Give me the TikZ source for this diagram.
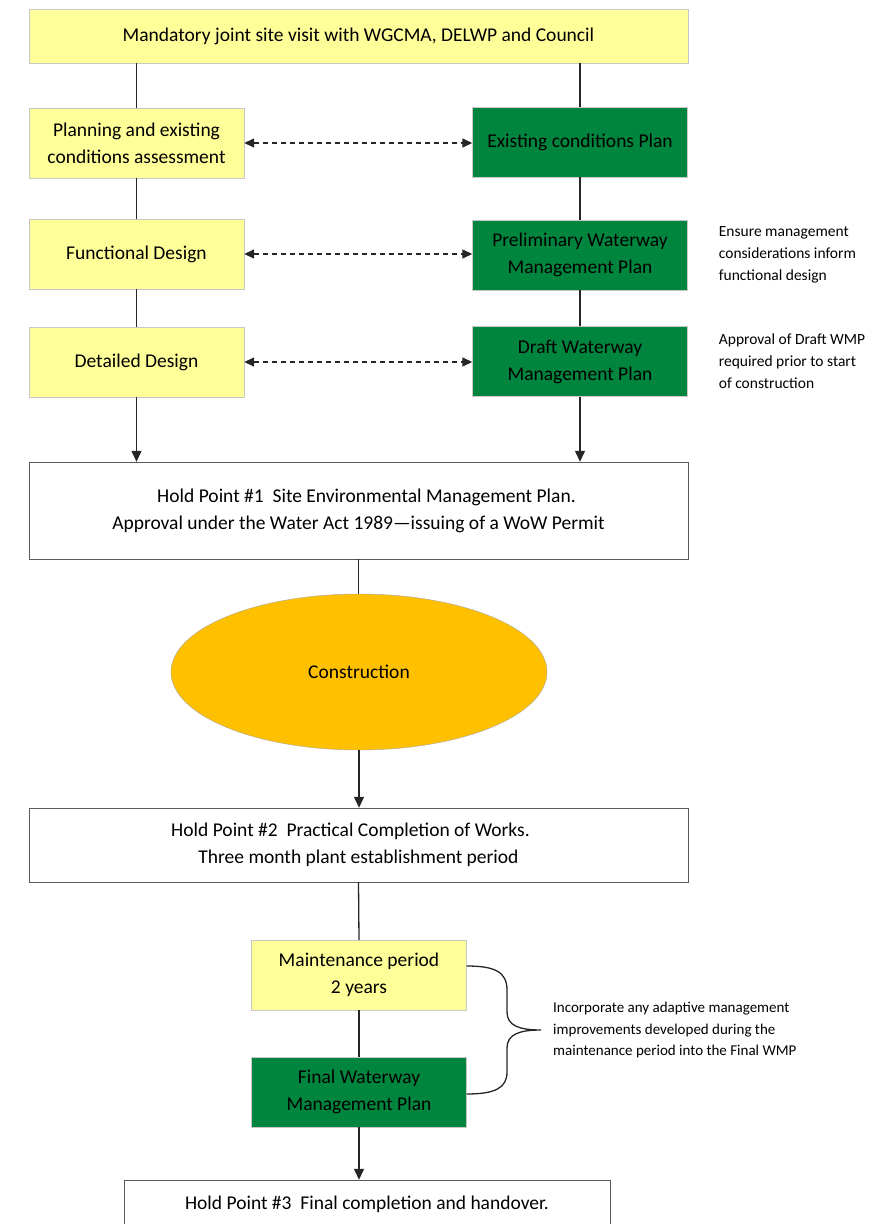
\documentclass[tikz,border=0pt]{standalone}
\usepackage{fontspec}
\setmainfont{Carlito}
\usetikzlibrary{shapes.geometric,arrows.meta,positioning}
\definecolor{paleyellow}{RGB}{255,255,153}
\definecolor{plangreen}{RGB}{0,133,62}
\definecolor{buildorange}{RGB}{255,192,0}
\definecolor{edgegray}{RGB}{200,200,200}
\definecolor{framegray}{RGB}{90,90,90}
\tikzset
{
    stepbox/.style   = {rectangle, draw=edgegray, fill=paleyellow, align=center, minimum width=215pt, minimum height=70pt, inner sep=0pt, font=\fontsize{19.5}{27}\selectfont},
    planbox/.style   = {stepbox, fill=plangreen},
    holdbox/.style   = {rectangle, draw=framegray, fill=white, align=center, minimum width=659pt, inner sep=0pt, font=\fontsize{19.5}{27}\selectfont},
    sidenote/.style  = {align=left, inner sep=0pt, font=\fontsize{15.5}{22}\selectfont},
    link/.style      = {draw=black!85, line width=1.3pt},
    flow/.style      = {link, -{Triangle[width=10pt,length=11pt]}},
    crosslink/.style = {link, dash pattern=on 5pt off 4pt, {Triangle[width=9pt,length=10pt]}-{Triangle[width=9pt,length=10pt]}}
}

\begin{document}
\begin{tikzpicture}[x=1pt, y=-1pt]
		\clip (0,0) rectangle (878,1224);
		\node[stepbox, minimum width=659pt, minimum height=54pt] (visit) at (358.5,36) {Mandatory joint site visit with WGCMA, DELWP and Council};
		% design side
		\node[stepbox] (assess) at (136.5,143) {Planning and existing\\conditions assessment};
		\node[stepbox] (functional) at (136.5,254) {Functional Design};
		\node[stepbox] (detailed) at (136.5,362) {Detailed Design};
		% management plans
		\node[planbox] (existing) at (580,142) {Existing conditions Plan};
		\node[planbox] (prelim) at (580,255) {Preliminary Waterway\\Management Plan};
		\node[planbox] (draft) at (580,361.5) {Draft Waterway\\Management Plan};
		\node[sidenote, right=31pt of prelim] (ensure) {Ensure management\\considerations inform\\functional design};
		\node[sidenote, right=31pt of draft] (approval) {Approval of Draft WMP\\required prior to start\\of construction};
		% hold points
		\node[holdbox, minimum height=97pt] (hold1) at (358.5,510.5) {\hspace*{16pt}Hold Point \#1\ \ Site Environmental Management Plan.\\Approval under the Water Act 1989—issuing of a WoW Permit};
		\node[ellipse, draw=gray!70, fill=buildorange, minimum width=376pt, minimum height=156pt, font=\fontsize{19.5}{27}\selectfont] (build) at (359,672) {Construction};
		\node[holdbox, minimum height=74pt] (hold2) at (358.5,845) {Hold Point \#2\ \ Practical Completion of Works.\hspace*{16pt}\\Three month plant establishment period};
		\node[stepbox] (maintain) at (359,975) {Maintenance period\\2 years};
		\node[planbox] (final) at (359,1092) {Final Waterway\\Management Plan};
		\node[holdbox, minimum width=486pt, minimum height=48pt] (hold3) at (367,1204) {Hold Point \#3\ \ Final completion and handover.};
		\draw[link] (assess.north) -- (assess.north |- visit.south);
		\draw[link] (existing.north) -- (existing.north |- visit.south);
		\draw[link] (assess.south) -- (functional.north);
		\draw[link] (functional.south) -- (detailed.north);
		\draw[link] (existing.south) -- (prelim.north);
		\draw[link] (prelim.south) -- (draft.north);
		\draw[crosslink] (assess.east) -- (assess.east -| existing.west);
		\draw[crosslink] (functional.east) -- (functional.east -| prelim.west);
		\draw[crosslink] (detailed.east) -- (detailed.east -| draft.west);
		\draw[flow] (detailed.south) -- (detailed.south |- hold1.north);
		\draw[flow] (draft.south) -- (draft.south |- hold1.north);
		\draw[link] (hold1.south) -- (hold1.south |- build.north);
		\draw[flow] (build.south) -- (build.south |- hold2.north);
		\draw[link] (hold2.south) -- (maintain.north);
		\draw[link] (maintain.south) -- (final.north);
		\draw[flow] (final.south) -- (final.south |- hold3.north);
		% brace over the maintenance stage
		\coordinate (bracetop) at ([yshift=9pt]maintain.east);
		\coordinate (bracebot) at ([yshift=-2pt]final.east);
		\coordinate (bracetip) at (541,1030);
		\draw[link] (bracetop) .. controls (495,966) and (507,972) .. (507,990) -- (507,1012)
			.. controls (507,1026) and (520,1030) .. (bracetip)
			.. controls (520,1030) and (507,1034) .. (507,1048) -- (507,1072)
			.. controls (507,1088) and (495,1094) .. (bracebot);
		\node[sidenote, font=\fontsize{15}{21.5}\selectfont, right=12pt of bracetip] (adaptive) {Incorporate any adaptive management\\improvements developed during the\\maintenance period into the Final WMP};
\end{tikzpicture}
\end{document}
